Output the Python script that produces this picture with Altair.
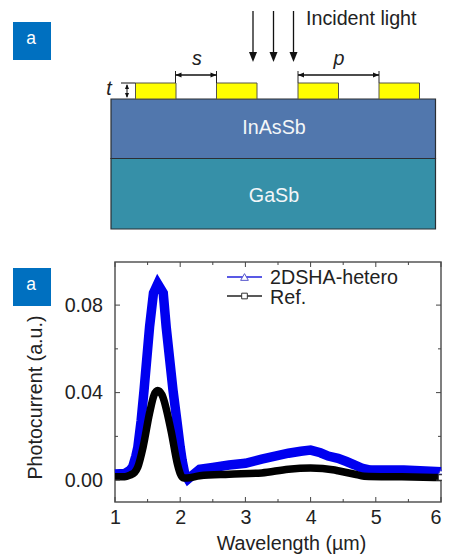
import altair as alt
import pandas as pd

FONT = "Liberation Sans"
TXT = "#222222"

# ---- measured curves
blue_x = [1.0, 1.15, 1.23, 1.27, 1.32, 1.35, 1.4, 1.445, 1.53, 1.59, 1.655, 1.74, 1.785, 1.89, 1.95, 2.0, 2.03, 2.07, 2.12,
          2.2, 2.3, 2.5, 2.75, 3.0, 3.25, 3.66, 3.85, 4.0, 4.15, 4.27, 4.42, 4.55, 4.68, 4.8, 4.92, 5.18, 5.43, 5.68, 6.0]
blue_y = [0.0028, 0.003, 0.0045, 0.006, 0.011, 0.015, 0.027, 0.041, 0.07, 0.0855, 0.0897, 0.0855, 0.07, 0.041, 0.027, 0.015,
          0.009, 0.003, 0.0005, 0.0025, 0.005, 0.0058, 0.0069, 0.0077, 0.0096, 0.0123, 0.0132, 0.0137, 0.0125, 0.011, 0.01,
          0.0085, 0.0069, 0.0053, 0.0046, 0.0046, 0.0046, 0.0043, 0.0038]
black_x = [1.0, 1.15, 1.23, 1.3, 1.35, 1.43, 1.53, 1.6, 1.655, 1.72, 1.86, 1.96, 2.0, 2.05, 2.1, 2.3, 2.75,
           3.25, 3.66, 4.0, 4.37, 4.42, 4.68, 4.82, 5.4, 6.0]
black_y = [0.0015, 0.0015, 0.0023, 0.0035, 0.006, 0.015, 0.0306, 0.039, 0.041, 0.039, 0.0225, 0.007, 0.003,
           0.001, 0.001, 0.002, 0.0027, 0.0033, 0.005, 0.0055, 0.0046, 0.0043, 0.0027, 0.0018, 0.0015, 0.0012]

x_major = [1, 2, 3, 4, 5, 6]
x_minor = [1.5, 2.5, 3.5, 4.5, 5.5]
y_major = [0.0, 0.04, 0.08]
y_minor = [0.02, 0.06]

# ---- schematic (figure units)
badge_y = [22, 268]
layer_x = [111, 435.5]
layer_y = [99, 158.5, 229]
layer_fill = ["#5177AD", "#3690A8"]
layer_names = ["InAsSb", "GaSb"]
layer_text_y = [128, 196]
strip_x = [135.5, 216.5, 298, 379]
strip_w = 40.5
strip_y = [83, 99]
light_x = [253, 273.5, 293.5]
light_y = [11, 56]
dim_s = [175.5, 216.5]
dim_p = [298, 379]
dim_y = 75

W, H = 326, 240
X0, X1, Y0, Y1 = 115, 441, 262, 502

def fx(f="x"):
    return alt.X(f"{f}:Q", scale=alt.Scale(domain=[X0, X1], nice=False, zero=False), axis=None)
def fy(f="y"):
    return alt.Y(f"{f}:Q", scale=alt.Scale(domain=[Y1, Y0], nice=False, zero=False), axis=None)

dx_scale = alt.Scale(domain=[1, 6], nice=False, zero=False)
dy_scale = alt.Scale(domain=[-0.01, 0.0997], nice=False, zero=False)

def rects(rows, **mark):
    return alt.Chart(pd.DataFrame(rows)).mark_rect(**mark).encode(
        x=fx("x"), x2="x2:Q", y=fy("y"), y2="y2:Q",
        color=alt.Color("c:N", scale=None))

def segs(rows, color="#111111", width=1.3):
    return alt.Chart(pd.DataFrame(rows)).mark_rule(color=color, strokeWidth=width).encode(
        x=fx("x"), x2="x2:Q", y=fy("y"), y2="y2:Q")

def texts(rows, size=19.7, color=TXT, align="center", style="normal"):
    return alt.Chart(pd.DataFrame(rows)).mark_text(
        font=FONT, fontSize=size, color=color, align=align, baseline="middle", fontStyle=style
    ).encode(x=fx("x"), y=fy("y"), text="t:N")

def heads(rows, shape, size, color="#111111"):
    return alt.Chart(pd.DataFrame(rows)).mark_point(
        shape=shape, size=size, filled=True, color=color, opacity=1, strokeWidth=0
    ).encode(x=fx("x"), y=fy("y"))

DOWN = "M-0.8,-1L0.8,-1L0,1Z"
LEFT = "M1,-0.8L1,0.8L-1,0Z"
RIGHT = "M-1,-0.8L-1,0.8L1,0Z"
UP = "M-0.8,1L0.8,1L0,-1Z"

# ---- plot
blue_df = pd.DataFrame({"x": blue_x, "y": blue_y})
black_df = pd.DataFrame({"x": black_x, "y": black_y})

axis_layer = alt.Chart(blue_df).mark_line(color="#0000F0", strokeWidth=9.5, strokeJoin="miter").encode(
    x=alt.X("x:Q", scale=dx_scale, axis=alt.Axis(
        values=x_major, format="d", ticks=False, domain=False, grid=False, labelFont=FONT, labelFontSize=19.7,
        labelColor=TXT, labelPadding=5, title="Wavelength (µm)", titleFont=FONT, titleFontSize=19.7,
        titleFontWeight="normal", titleColor=TXT, titleX=176, titleY=31,
        labelAlign=alt.expr("datum.value == 6 ? 'right' : 'center'"))),
    y=alt.Y("y:Q", scale=dy_scale, axis=alt.Axis(
        values=y_major, format=".2f", ticks=False, domain=False, grid=False, labelFont=FONT, labelFontSize=19.7,
        labelColor=TXT, labelPadding=12.5, title="Photocurrent (a.u.)", titleFont=FONT, titleFontSize=19.7,
        titleFontWeight="normal", titleColor=TXT, titleX=-70, titleY=135)),
    order=alt.Order("x:Q"))

black_layer = alt.Chart(black_df).mark_line(color="#000000", strokeWidth=7.5, strokeJoin="round", interpolate="monotone").encode(
    x=alt.X("x:Q", scale=dx_scale, axis=None), y=alt.Y("y:Q", scale=dy_scale, axis=None))

def xticks(vals, a, b):
    return alt.Chart(pd.DataFrame({"v": vals})).mark_rule(color="#444444", strokeWidth=1).encode(
        x=alt.X("v:Q", scale=dx_scale, axis=None), y=alt.value(a), y2=alt.value(b))
def yticks(vals, a, b):
    return alt.Chart(pd.DataFrame({"v": vals})).mark_rule(color="#444444", strokeWidth=1).encode(
        y=alt.Y("v:Q", scale=dy_scale, axis=None), x=alt.value(a), x2=alt.value(b))

ticks = [xticks(x_major, H, H - 5), xticks(x_minor, H, H - 3), xticks(x_major, 0, 5), xticks(x_minor, 0, 3),
         yticks(y_major, 0, 5), yticks(y_minor, 0, 3), yticks(y_major, W, W - 5), yticks(y_minor, W, W - 3)]

end_tri = alt.Chart(blue_df.tail(1)).mark_point(shape="triangle-up", size=30, stroke="#3333cc", fill="white", filled=True, opacity=1, strokeWidth=1).encode(
    x=alt.X("x:Q", scale=dx_scale, axis=None), y=alt.Y("y:Q", scale=dy_scale, axis=None))
end_sq = alt.Chart(black_df.tail(1)).mark_point(shape="square", size=30, stroke="#222222", fill="white", filled=True, opacity=1, strokeWidth=1).encode(
    x=alt.X("x:Q", scale=dx_scale, axis=None), y=alt.Y("y:Q", scale=dy_scale, axis=None))

# ---- legend
legend = [
    segs([{"x": 227, "x2": 262, "y": 277, "y2": 277}], color="#2222DD", width=1.5),
    segs([{"x": 227, "x2": 262, "y": 296, "y2": 296}], color="#222222", width=1.5),
    alt.Chart(pd.DataFrame([{"x": 244.5, "y": 277}])).mark_point(shape="triangle-up", size=60, stroke="#5555cc", fill="white", filled=True, opacity=1, strokeWidth=1).encode(x=fx(), y=fy()),
    alt.Chart(pd.DataFrame([{"x": 244.5, "y": 296}])).mark_point(shape="square", size=32, stroke="#333333", fill="white", filled=True, opacity=1, strokeWidth=1).encode(x=fx(), y=fy()),
    texts([{"x": 270, "y": 277.5, "t": "2DSHA-hetero"}, {"x": 270, "y": 298, "t": "Ref."}], align="left"),
]

# ---- schematic
schem = [
    rects([{"x": 13, "x2": 51, "y": by, "y2": by + 38, "c": "#0070C0"} for by in badge_y]),
    texts([{"x": 31, "y": by + 17, "t": "a"} for by in badge_y], size=17.5, color="white"),
    rects([{"x": layer_x[0], "x2": layer_x[1], "y": layer_y[i], "y2": layer_y[i + 1], "c": layer_fill[i]} for i in range(2)],
          stroke="#2b2f33", strokeWidth=1.2),
    texts([{"x": 274, "y": ty, "t": n} for ty, n in zip(layer_text_y, layer_names)], color="#F3F6F8"),
    rects([{"x": s, "x2": s + strip_w, "y": strip_y[0], "y2": strip_y[1], "c": "#FFFF00"} for s in strip_x],
          stroke="#55554a", strokeWidth=1),
    segs([{"x": lx, "x2": lx, "y": light_y[0], "y2": light_y[1]} for lx in light_x]),
    heads([{"x": lx, "y": 57} for lx in light_x], DOWN, 100),
    segs([{"x": d, "x2": d, "y": 71, "y2": strip_y[0]} for d in dim_s + dim_p], color="#222222", width=1),
    segs([{"x": d[0], "x2": d[1], "y": dim_y, "y2": dim_y} for d in (dim_s, dim_p)]),
    heads([{"x": d[0] + 3, "y": dim_y} for d in (dim_s, dim_p)], LEFT, 36),
    heads([{"x": d[1] - 3, "y": dim_y} for d in (dim_s, dim_p)], RIGHT, 36),
    segs([{"x": 121, "x2": 135.5, "y": 83, "y2": 83}, {"x": 127, "x2": 127, "y": 85, "y2": 97}], width=1),
    heads([{"x": 127, "y": 86.5}], UP, 25),
    heads([{"x": 127, "y": 95.5}], DOWN, 25),
    texts([{"x": 109, "y": 89, "t": "t"}, {"x": 197, "y": 59, "t": "s"}, {"x": 339, "y": 59, "t": "p"}], style="italic"),
    texts([{"x": 306, "y": 19, "t": "Incident light"}], align="left"),
]

chart = alt.layer(axis_layer, black_layer, *ticks, end_tri, end_sq, *legend, *schem).resolve_scale(
    x="independent", y="independent"
).properties(
    width=W, height=H,
    autosize=alt.AutoSizeParams(type="none"),
    padding={"left": 107, "top": 254, "right": 1, "bottom": 54},
).configure_view(stroke="#555555", strokeWidth=1.5)

chart.save("out.html", embed_options={"renderer": "svg", "actions": False})
